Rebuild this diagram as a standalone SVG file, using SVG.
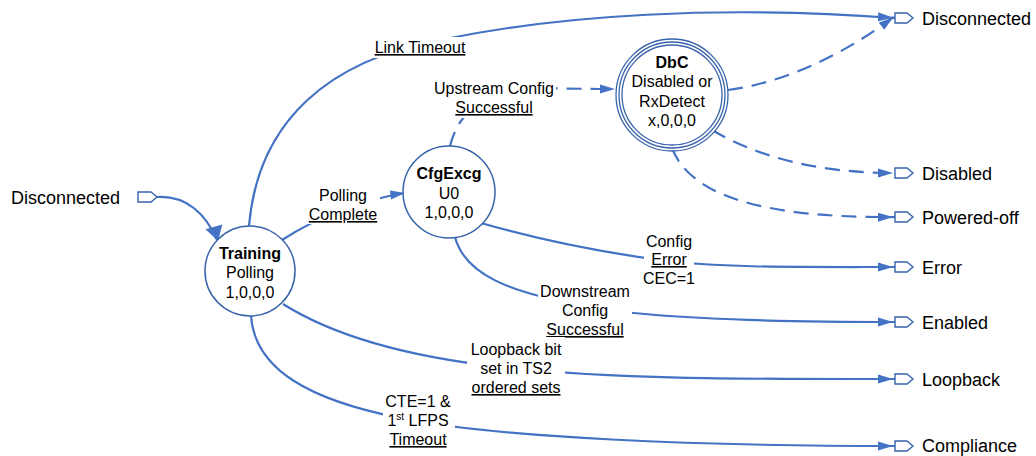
<svg xmlns="http://www.w3.org/2000/svg" width="1036" height="456" viewBox="0 0 1036 456">
<style>
text{font-family:"Liberation Sans",Arial,sans-serif;fill:#000}
.nt{font-size:16px;text-anchor:middle}
.b{font-weight:bold}
.lb{font-size:16px;text-anchor:middle}
.u{text-decoration:underline}
.pt{font-size:18px}
.st{fill:#fff;stroke:#3763AA;stroke-width:1.5}
.dbc{fill:none;stroke:#3763AA;stroke-width:1.3}
.port{fill:#fff;stroke:#3763AA;stroke-width:1.4}
.c{fill:none;stroke:#4472C4;stroke-width:2.2;marker-end:url(#ah)}
.d{stroke-dasharray:15 9}
.bg{fill:#fff}
</style>
<defs>
<marker id="ah" markerUnits="userSpaceOnUse" markerWidth="20" markerHeight="10" refX="17" refY="5" orient="auto">
<path d="M0,0.5 L15,5 L0,9.5 Z" fill="#4472C4"/>
</marker>
</defs>
<g id="connectors">
<path class="c" d="M157,197 C186,195 206,214 217,240" style="marker-end:none"/>
<path d="M204,231 L218,241 L220,224 Z" fill="#4472C4" transform="rotate(8 218 241)"/>
<path class="c" d="M249,226 C258,120 330,60 440,40 C560,15 720,5 895,18"/>
<path class="c" d="M282,240 Q338,204 405,193" style="marker-end:none"/>
<path d="M390,190.5 L405,193 L391,199.5 Z" fill="#4472C4"/>
<path class="c d" d="M450,146 C456,122 475,92 520,88 L600,89" style="marker-end:none"/>
<path d="M600,84.5 L615,89 L600,93.5 Z" fill="#4472C4"/>
<path class="c d" d="M728,90 C790,82 850,50 895,16"/>
<path class="c d" d="M712,130 C760,158 820,173 895,173"/>
<path class="c d" d="M672,148 C690,195 760,218 895,217"/>
<path class="c" d="M481,223 C540,240 600,252 660,260 C720,268 800,267 895,267"/>
<path class="c" d="M455,237 C465,275 510,292 580,305 C640,318 760,322 895,322"/>
<path class="c" d="M283,304 C340,340 420,358 500,367 C620,380 760,379 895,379"/>
<path class="c" d="M251,316 C255,370 310,400 400,418 C500,438 700,446 895,446"/>
<g id="edge-labels">
<rect class="bg" x="372" y="37" width="98" height="21"/>
<text class="lb u" x="420" y="53">Link Timeout</text>
<rect class="bg" x="307" y="183" width="73" height="41"/>
<text class="lb" x="343" y="201">Polling</text>
<text class="lb u" x="343" y="220">Complete</text>
<rect class="bg" x="432" y="76" width="124" height="42"/>
<text class="lb" x="494" y="94">Upstream Config</text>
<text class="lb u" x="494" y="113">Successful</text>
<rect class="bg" x="644" y="229" width="50" height="60"/>
<text class="lb" x="669" y="247">Config</text>
<text class="lb u" x="669" y="265">Error</text>
<text class="lb" x="669" y="284">CEC=1</text>
<rect class="bg" x="538" y="279" width="94" height="60"/>
<text class="lb" x="585" y="297">Downstream</text>
<text class="lb" x="585" y="316">Config</text>
<text class="lb u" x="585" y="335">Successful</text>
<rect class="bg" x="467" y="337" width="98" height="60"/>
<text class="lb" x="516" y="355">Loopback bit</text>
<text class="lb" x="516" y="374">set in TS2</text>
<text class="lb u" x="516" y="393">ordered sets</text>
<rect class="bg" x="383" y="389" width="72" height="60"/>
<text class="lb" x="418" y="407">CTE=1 &amp;</text>
<text class="lb" x="418" y="426">1<tspan font-size="10" dy="-6">st</tspan><tspan dy="6"> LFPS</tspan></text>
<text class="lb u" x="418" y="445">Timeout</text>
</g>
</g>
<g id="training">
<circle class="st" cx="250" cy="271" r="45"/>
<text class="nt b" x="250" y="259">Training</text>
<text class="nt" x="250" y="278">Polling</text>
<text class="nt" x="250" y="298">1,0,0,0</text>
</g>
<g id="cfgexcg">
<circle class="st" cx="449" cy="192" r="46"/>
<text class="nt b" x="449" y="179">CfgExcg</text>
<text class="nt" x="449" y="199">U0</text>
<text class="nt" x="449" y="218">1,0,0,0</text>
</g>
<g id="dbc">
<circle cx="672" cy="95" r="56" fill="#fff"/>
<circle class="dbc" cx="672" cy="95" r="56"/>
<circle class="dbc" cx="672" cy="95" r="53"/>
<circle class="dbc" cx="672" cy="95" r="50"/>
<text class="nt b" x="672" y="68">DbC</text>
<text class="nt" x="672" y="87">Disabled or</text>
<text class="nt" x="672" y="107">RxDetect</text>
<text class="nt" x="672" y="126">x,0,0,0</text>
</g>
<g id="port-disconnected-in">
<path class="port" d="M138,192 H151 L157,197 L151,202 H138 Z"/>
<text class="pt" x="11" y="203.5">Disconnected</text>
</g>
<g id="port-disconnected-out">
<path class="port" d="M895,13 H907 L913,18 L907,23 H895 Z"/>
<text class="pt" x="922" y="24.5">Disconnected</text>
</g>
<g id="port-disabled">
<path class="port" d="M895,168 H907 L913,173 L907,178 H895 Z"/>
<text class="pt" x="922" y="179.5">Disabled</text>
</g>
<g id="port-poweredoff">
<path class="port" d="M895,212 H907 L913,217 L907,222 H895 Z"/>
<text class="pt" x="922" y="223.5">Powered-off</text>
</g>
<g id="port-error">
<path class="port" d="M895,262 H907 L913,267 L907,272 H895 Z"/>
<text class="pt" x="922" y="273.5">Error</text>
</g>
<g id="port-enabled">
<path class="port" d="M895,317 H907 L913,322 L907,327 H895 Z"/>
<text class="pt" x="922" y="328.5">Enabled</text>
</g>
<g id="port-loopback">
<path class="port" d="M895,374 H907 L913,379 L907,384 H895 Z"/>
<text class="pt" x="922" y="385.5">Loopback</text>
</g>
<g id="port-compliance">
<path class="port" d="M895,441 H907 L913,446 L907,451 H895 Z"/>
<text class="pt" x="922" y="452">Compliance</text>
</g>
</svg>
